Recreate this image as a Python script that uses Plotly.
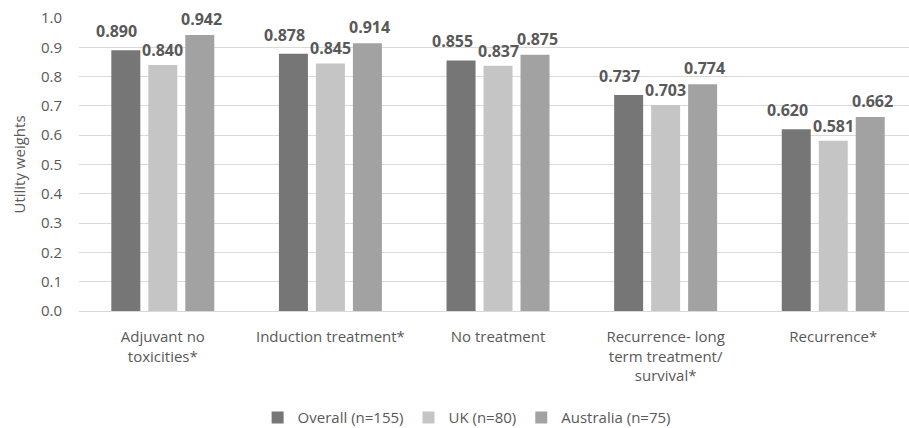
import plotly.graph_objects as go

categories = [
    "Adjuvant no<br>toxicities*",
    "Induction treatment*",
    "No treatment",
    "Recurrence- long<br>term treatment/<br>survival*",
    "Recurrence*",
]
overall = [0.890, 0.878, 0.855, 0.737, 0.620]
uk = [0.840, 0.845, 0.837, 0.703, 0.581]
australia = [0.942, 0.914, 0.875, 0.774, 0.662]

series_names = ["Overall (n=155)", "UK (n=80)", "Australia (n=75)"]
series_values = [overall, uk, australia]
series_colors = ["#767676", "#c5c5c5", "#a2a2a2"]
# label nudges (px) so neighbouring value labels don't collide
label_dx = [-9, 0, 2]
label_dy = [6, 2, 3]

FONT = "Open Sans"
TEXT = "#595959"
BARGAP = 0.338
BARGROUPGAP = 0.216

fig = go.Figure()
xs = list(range(len(categories)))
n_series = len(series_values)
slot = (1 - BARGAP) / n_series

for i, (name, vals, color) in enumerate(zip(series_names, series_values, series_colors)):
    fig.add_trace(go.Bar(
        x=xs, y=vals, name=name,
        marker=dict(color=color, line=dict(width=0)),
        hoverinfo="x+y+name",
    ))
    offset = (i - (n_series - 1) / 2) * slot
    for x, v in zip(xs, vals):
        fig.add_annotation(
            x=x + offset, y=v, xref="x", yref="y",
            text=f"<b>{v:.3f}</b>", showarrow=False,
            xanchor="center", yanchor="bottom",
            xshift=label_dx[i], yshift=label_dy[i],
            font=dict(family=FONT, size=16, color=TEXT),
        )

fig.update_layout(
    width=909, height=428,
    margin=dict(l=79, r=0, t=18, b=117, autoexpand=False),
    paper_bgcolor="white", plot_bgcolor="white",
    barmode="group", bargap=BARGAP, bargroupgap=BARGROUPGAP,
    font=dict(family=FONT, size=15, color=TEXT),
    showlegend=True,
    legend=dict(
        orientation="h", x=0.467, xanchor="center",
        yref="container", y=0.024, yanchor="middle",
        font=dict(family=FONT, size=15, color=TEXT),
        itemwidth=30, traceorder="normal",
    ),
)
fig.update_xaxes(
    tickmode="array", tickvals=xs, ticktext=categories,
    range=[-0.5, 4.452], showgrid=False, zeroline=False,
    showline=True, linecolor="#d9d9d9", linewidth=1,
    ticks="", ticklabelstandoff=12, automargin=False,
    tickfont=dict(family=FONT, size=15, color=TEXT),
)
fig.update_yaxes(
    range=[0, 1.0], dtick=0.1, tickformat=".1f",
    showgrid=True, gridcolor="#d9d9d9", gridwidth=1,
    zeroline=False, showline=False, ticks="", ticklabelstandoff=16,
    automargin=False,
    tickfont=dict(family=FONT, size=15, color=TEXT),
    title=dict(text="Utility weights", font=dict(family=FONT, size=15, color=TEXT), standoff=11),
)

fig.write_html("out.html")
